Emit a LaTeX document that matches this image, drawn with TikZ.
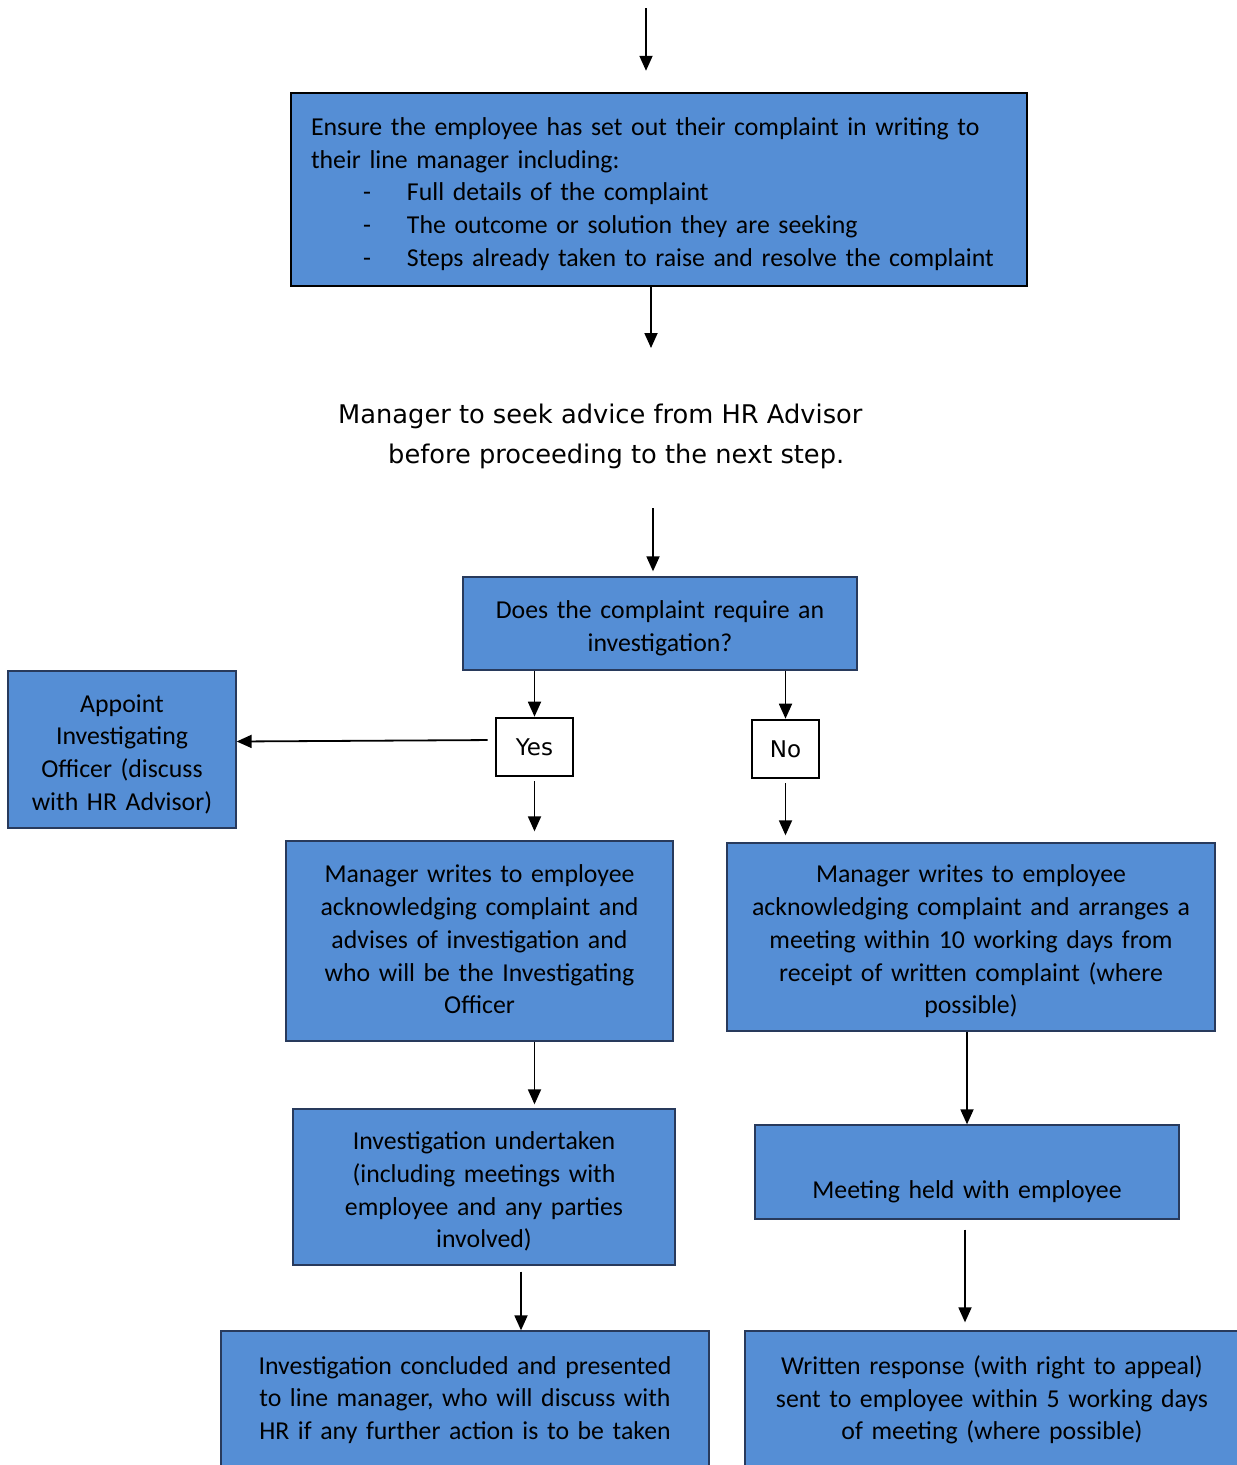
\documentclass[tikz,border=0pt]{standalone}
\usepackage{fontspec}
\setmainfont{Carlito}
\newfontfamily\tahoma{DejaVu Sans}
\usetikzlibrary{arrows.meta}
\hyphenpenalty=10000

\definecolor{boxblue}{RGB}{85,142,213}
\definecolor{boxline}{RGB}{40,58,92}

\begin{document}
\begin{tikzpicture}
  [x=1pt,y=-1pt,
   every node/.style={inner sep=0pt,align=center,font=\fontsize{25.8}{32.7}\selectfont},
   box/.style={draw=boxline,line width=1.3pt,fill=boxblue,execute at end node={\endgraf\vspace*{#1}}},
   box/.default=-9pt,
   choice/.style={draw=black,line width=2.6pt,fill=white,font=\tahoma\fontsize{23}{28}\selectfont},
   arr/.style={line width=1.8pt,-{Triangle[width=13pt,length=15pt]}}]
  \useasboundingbox (0,0) rectangle (1237,1465);

  \node[box,draw=black,line width=2.4pt,align=left,text width=696pt,inner xsep=20pt,minimum height=193pt] (ensure) at (659,189.5)
    {Ensure the employee has set out their complaint in writing to\\
     their line manager including:\\
     \hspace*{52pt}\makebox[44pt][l]{-}Full details of the complaint\\
     \hspace*{52pt}\makebox[44pt][l]{-}The outcome or solution they are seeking\\
     \hspace*{52pt}\makebox[44pt][l]{-}Steps already taken to raise and resolve the complaint};
  \node[anchor=base west,align=left,font=\tahoma\fontsize{25.7}{40}\selectfont] (advice) at (338,463)
    {Manager to seek advice from HR Advisor\\ \hspace*{50pt}before proceeding to the next step.};
  \node[box,text width=394pt,minimum height=93pt] (query) at (660,623.5)
    {Does the complaint require an\\ investigation?};
  \node[choice,minimum width=77pt,minimum height=58pt] (yes) at (534.5,747) {Yes};
  \node[choice,minimum width=67pt,minimum height=58pt] (no) at (785.5,749) {No};
  \node[box,text width=228pt,minimum height=157pt] (appoint) at (122,749.5)
    {Appoint\\ Investigating\\ Officer (discuss\\ with HR Advisor)};
  \node[box=3pt,text width=387pt,minimum height=200pt] (m1) at (479.5,941)
    {Manager writes to employee\\ acknowledging complaint and\\ advises of investigation and\\
     who will be the Investigating\\ Officer};
  \node[box,text width=488pt,minimum height=188pt] (n1) at (971,937)
    {Manager writes to employee\\ acknowledging complaint and arranges a\\
     meeting within 10 working days from\\ receipt of written complaint (where\\ possible)};
  \node[box,text width=382pt,minimum height=156pt] (i1) at (484,1187)
    {Investigation undertaken\\ (including meetings with\\ employee and any parties\\ involved)};
  \node[box,text width=424pt,minimum height=94pt] (meeting) at (967,1172)
    {~\\[16pt] Meeting held with employee};
  \node[box=2pt,text width=488pt,minimum height=140pt] (i2) at (465,1401)
    {Investigation concluded and presented\\ to line manager, who will discuss with\\
     HR if any further action is to be taken};
  \node[box=2pt,text width=494pt,minimum height=140pt] (w) at (992,1401)
    {Written response (with right to appeal)\\ sent to employee within 5 working days\\
     of meeting (where possible)};

  \coordinate (start) at (646,8);
  \coordinate (down1) at (651,348);
  \coordinate (down2) at (653,508);

  \draw[arr,shorten >=21pt] (start) -- (start |- ensure.north);
  \draw[arr] (ensure.south -| down1) -- (down1);
  \draw[arr,shorten >=5pt] (down2) -- (down2 |- query.north);
  \foreach \from/\to in {query/yes,query/no,n1/meeting}
    \draw[arr] (\to |- \from.south) -- (\to.north);
  \draw[arr,shorten <=7pt] ([yshift=7pt]yes.west) -- ([yshift=8pt]appoint.east);
  \draw[arr,shorten <=4pt,shorten >=9pt] (yes.south) -- (yes |- m1.north);
  \draw[arr,shorten <=4pt,shorten >=7pt] (no.south) -- (no |- n1.north);
  \draw[arr,shorten >=4pt] (yes |- m1.south) -- (yes |- i1.north);
  \draw[arr,shorten <=6pt] ([xshift=37pt]i1.south) -- ([xshift=56pt]i2.north);
  \draw[arr,shorten <=10pt,shorten >=8pt] ([xshift=-2pt]meeting.south) -- ([xshift=-27pt]w.north);

\end{tikzpicture}
\end{document}
